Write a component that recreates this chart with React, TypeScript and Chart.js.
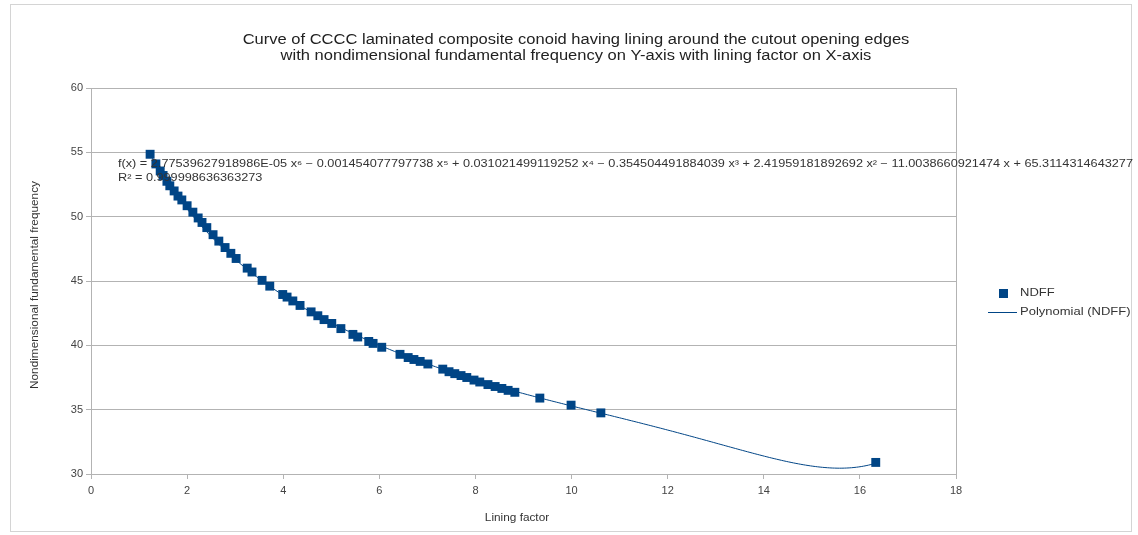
import { useEffect, useRef } from "react";
import { Chart, registerables } from "chart.js";

Chart.register(...registerables);

// Lining factor (x) and nondimensional fundamental frequency (y)
const liningFactor = [
  1.23, 1.35, 1.44, 1.5, 1.58, 1.64, 1.73, 1.81, 1.89, 2.0, 2.12, 2.23, 2.31, 2.41,
  2.54, 2.66, 2.79, 2.91, 3.02, 3.25, 3.35, 3.56, 3.72, 3.99, 4.08, 4.2, 4.35, 4.58,
  4.72, 4.85, 5.01, 5.2, 5.45, 5.55, 5.78, 5.87, 6.05, 6.43, 6.6, 6.72, 6.85, 7.01,
  7.32, 7.45, 7.57, 7.7, 7.82, 7.97, 8.09, 8.26, 8.41, 8.55, 8.68, 8.82, 9.34, 9.99,
  10.61, 16.33,
];
const ndff = [
  54.85, 54.1, 53.55, 53.2, 52.75, 52.4, 52.0, 51.6, 51.3, 50.85, 50.35, 49.9, 49.55,
  49.15, 48.6, 48.1, 47.6, 47.15, 46.75, 46.0, 45.7, 45.05, 44.6, 43.95, 43.75, 43.45,
  43.1, 42.6, 42.3, 42.0, 41.7, 41.3, 40.85, 40.65, 40.3, 40.15, 39.85, 39.3, 39.05,
  38.9, 38.75, 38.55, 38.15, 37.95, 37.8, 37.65, 37.5, 37.3, 37.15, 36.95, 36.8, 36.65,
  36.5, 36.35, 35.9, 35.35, 34.75, 30.9,
];

// Sixth-order polynomial trend line, constant term first
const trendCoefficients = [
  65.3114314643277, -11.0038660921474, 2.41959181892692, -0.354504491884039,
  0.031021499119252, -0.001454077797738, 2.77539627918986e-5,
];
const trendEquation =
  "f(x) = 2.77539627918986E-05 x⁶ − 0.001454077797738 x⁵ + 0.031021499119252 x⁴ − 0.354504491884039 x³ + 2.41959181892692 x² − 11.0038660921474 x + 65.3114314643277";
const trendR2 = "R² = 0.999998636363273";

const titleLines = [
  "Curve of CCCC laminated composite conoid having lining around the cutout opening edges",
  "with nondimensional fundamental frequency on Y-axis with lining factor on X-axis",
];
const xTitle = "Lining factor";
const yTitle = "Nondimensional fundamental frequency";
const seriesName = "NDFF";
const trendName = "Polynomial (NDFF)";

const xRange = [0, 18, 2];
const yRange = [30, 60, 5];

const BLUE = "#004586";
const FONT = "'Liberation Sans', Arial, sans-serif";
// horizontal stretch applied to all chart text
const TEXT_STRETCH = 1.18;

function trendValue(x: number) {
  let v = 0;
  for (let i = trendCoefficients.length - 1; i >= 0; i--) v = v * x + trendCoefficients[i];
  return v;
}

function stretchedText(
  ctx: CanvasRenderingContext2D,
  text: string,
  x: number,
  y: number,
  align: "left" | "center",
  stretch: number,
) {
  const w = ctx.measureText(text).width * stretch;
  const left = align === "center" ? x - w / 2 : x;
  ctx.save();
  ctx.translate(left, y);
  ctx.scale(stretch, 1);
  ctx.textAlign = "left";
  ctx.fillText(text, 0, 0);
  ctx.restore();
}

export default function App() {
  const canvasRef = useRef<HTMLCanvasElement | null>(null);

  useEffect(() => {
    const canvas = canvasRef.current;
    if (!canvas) return;

    const points = liningFactor.map((x, i) => ({ x, y: ndff[i] }));
    const x0 = Math.min(...liningFactor);
    const x1 = Math.max(...liningFactor);
    const trend: { x: number; y: number }[] = [];
    const steps = 300;
    for (let i = 0; i <= steps; i++) {
      const x = x0 + ((x1 - x0) * i) / steps;
      trend.push({ x, y: trendValue(x) });
    }

    const decorations = {
      id: "decorations",
      afterDraw(chart: Chart) {
        const ctx = chart.ctx;
        const area = chart.chartArea;
        ctx.save();
        // outer frame
        ctx.strokeStyle = "#d4d4d4";
        ctx.lineWidth = 1;
        ctx.strokeRect(10.5, 4.5, 1121, 527);

        // plot area frame
        ctx.strokeStyle = "#b3b3b3";
        ctx.strokeRect(Math.round(area.left) + 0.5, Math.round(area.top) + 0.5,
          Math.round(area.right - area.left), Math.round(area.bottom - area.top));

        ctx.textBaseline = "middle";
        ctx.fillStyle = "#222";
        ctx.font = `14px ${FONT}`;
        stretchedText(ctx, titleLines[0], 576, 40, "center", TEXT_STRETCH);
        stretchedText(ctx, titleLines[1], 576, 56, "center", TEXT_STRETCH);

        ctx.fillStyle = "#333";
        ctx.font = `10px ${FONT}`;
        stretchedText(ctx, xTitle, 517, 518, "center", TEXT_STRETCH);
        ctx.save();
        ctx.translate(35, 285);
        ctx.rotate(-Math.PI / 2);
        stretchedText(ctx, yTitle, 0, 0, "center", TEXT_STRETCH);
        ctx.restore();

        // trend equation, spanning to the right edge
        ctx.font = `10px ${FONT}`;
        const eqStretch = 1015 / ctx.measureText(trendEquation).width;
        stretchedText(ctx, trendEquation, 118, 164, "left", eqStretch);
        stretchedText(ctx, trendR2, 118, 178, "left", eqStretch);

        // legend
        ctx.fillStyle = BLUE;
        ctx.fillRect(999, 289, 9, 9);
        ctx.strokeStyle = BLUE;
        ctx.beginPath();
        ctx.moveTo(988, 312.5);
        ctx.lineTo(1017, 312.5);
        ctx.stroke();
        ctx.fillStyle = "#333";
        ctx.font = `10px ${FONT}`;
        stretchedText(ctx, seriesName, 1020, 293, "left", 1.3);
        stretchedText(ctx, trendName, 1020, 312, "left", 1.3);
        ctx.restore();
      },
    };

    const chart = new Chart(canvas, {
      type: "scatter",
      data: {
        datasets: [
          {
            label: trendName,
            data: trend,
            showLine: true,
            borderColor: BLUE,
            borderWidth: 1,
            pointRadius: 0,
            fill: false,
            order: 2,
          },
          {
            label: seriesName,
            data: points,
            pointStyle: "rect",
            pointRadius: 6.3,
            pointBackgroundColor: BLUE,
            pointBorderColor: BLUE,
            pointBorderWidth: 0,
            showLine: false,
            order: 1,
          },
        ],
      },
      options: {
        responsive: false,
        animation: false,
        layout: { padding: { left: 0, right: 182, top: 88, bottom: 0 } },
        plugins: { legend: { display: false }, title: { display: false }, tooltip: { enabled: false } },
        scales: {
          x: {
            type: "linear",
            min: xRange[0],
            max: xRange[1],
            ticks: { stepSize: xRange[2], color: "#444", font: { size: 11, family: FONT }, padding: 5 },
            grid: { drawOnChartArea: false, drawTicks: true, tickLength: 5, color: "#b3b3b3" },
            border: { color: "#b3b3b3" },
            afterFit(scale: any) {
              scale.height = 535 - 474;
            },
          },
          y: {
            type: "linear",
            min: yRange[0],
            max: yRange[1],
            ticks: { stepSize: yRange[2], color: "#444", font: { size: 11, family: FONT }, padding: 3 },
            grid: { color: "#b3b3b3", tickLength: 5 },
            border: { color: "#b3b3b3" },
            afterFit(scale: any) {
              scale.width = 91;
            },
          },
        },
      },
      plugins: [decorations],
    });

    return () => chart.destroy();
  }, []);

  return (
    <div style={{ position: "absolute", left: 0, top: 0, width: 1138, height: 535, background: "#fff" }}>
      <canvas ref={canvasRef} width={1138} height={535} style={{ display: "block" }} />
    </div>
  );
}
